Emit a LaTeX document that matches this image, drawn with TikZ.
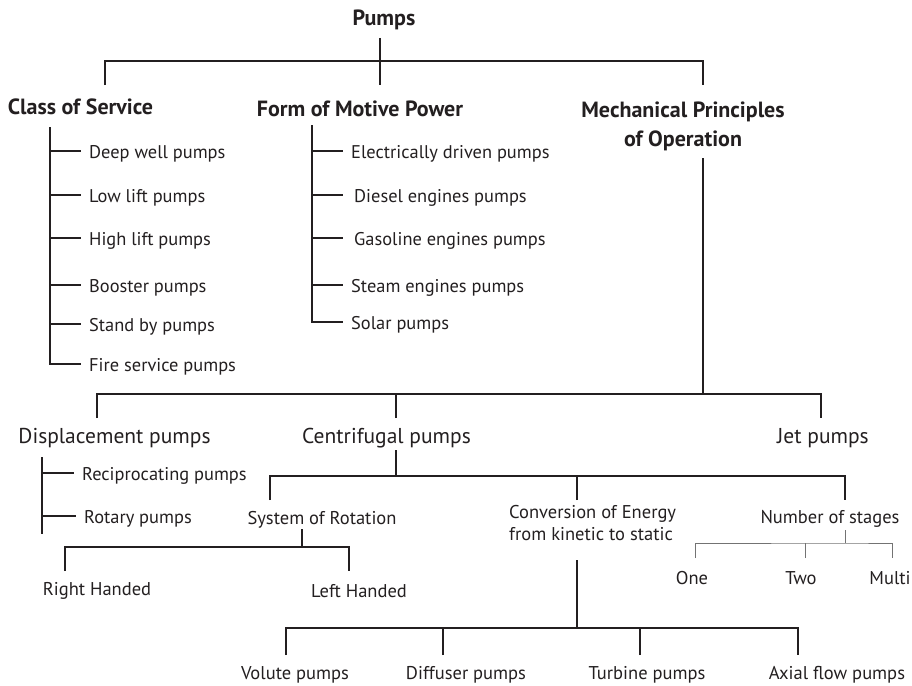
\documentclass[tikz,border=0pt]{standalone}
\usepackage{fontspec}
\setmainfont{PT Sans}
\definecolor{ink}{HTML}{231F20}
\tikzset{
  head/.style={font=\bfseries\fontsize{22}{29}\selectfont, text=ink, inner sep=0pt},
  kind/.style={font=\fontsize{21.5}{24}\selectfont, text=ink, inner sep=0pt},
  leaf/.style={font=\fontsize{18.5}{22}\selectfont, text=ink, inner sep=0pt},
  item/.style={font=\fontsize{18.4}{22}\selectfont, text=ink, inner sep=0pt, anchor=base west},
  link/.style={draw=ink, line width=1.5pt},
  thinlink/.style={draw=black!55, line width=1pt},
  tick/.style={xshift=-#1, yshift=7pt},
}
\begin{document}
\begin{tikzpicture}[x=1pt, y=-1pt]
    \useasboundingbox (0,0) rectangle (912,685);
        % top level
        \node[head] (pumps) at (384,20) {Pumps};
        \node[head] (cls) at (80.5,107) {Class of Service};
        \node[head] (form) at (360,109) {Form of Motive Power};
        \node[head, align=center] (mech) at (683,126) {Mechanical Principles\\of Operation};
        \coordinate (pumps-s) at (380,38);
        \coordinate (pumps-j) at (380,61);
        \coordinate (cls-n) at (105,85);
        \coordinate (form-n) at (380,85);
        \coordinate (mech-n) at (703,85);
        \draw[link] (pumps-s) -- (pumps-j);
        \draw[link] (cls-n) |- (pumps-j) -| (mech-n);
        \draw[link] (pumps-j) -- (form-n);
        % class of service
        \node[item] (deep) at (89,158) {Deep well pumps};
        \node[item] (low) at (89,202) {Low lift pumps};
        \node[item] (high) at (89,245) {High lift pumps};
        \node[item] (boost) at (89,292) {Booster pumps};
        \node[item] (stand) at (89,331) {Stand by pumps};
        \node[item] (fire) at (89,371) {Fire service pumps};
        \coordinate (cls-rail) at (50,127);
        \draw[link] (cls-rail) |- ([tick=8pt]fire.base west);
        \draw[link] ([yshift=7pt]cls-rail |- deep.base west) -- ([tick=8pt]deep.base west);
        \draw[link] ([yshift=7pt]cls-rail |- low.base west) -- ([tick=8pt]low.base west);
        \draw[link] ([yshift=7pt]cls-rail |- high.base west) -- ([tick=8pt]high.base west);
        \draw[link] ([yshift=7pt]cls-rail |- boost.base west) -- ([tick=8pt]boost.base west);
        \draw[link] ([yshift=7pt]cls-rail |- stand.base west) -- ([tick=8pt]stand.base west);
        % form of motive power
        \node[item] (elec) at (351,158) {Electrically driven pumps};
        \node[item] (diesel) at (354,202) {Diesel engines pumps};
        \node[item] (gas) at (354,245) {Gasoline engines pumps};
        \node[item] (steam) at (351,292) {Steam engines pumps};
        \node[item] (solar) at (351,329) {Solar pumps};
        \coordinate (form-rail) at (312,125);
        \draw[link] (form-rail) |- ([tick=8pt]solar.base west);
        \draw[link] ([yshift=7pt]form-rail |- elec.base west) -- ([tick=8pt]elec.base west);
        \draw[link] ([yshift=7pt]form-rail |- diesel.base west) -- ([tick=11pt]diesel.base west);
        \draw[link] ([yshift=7pt]form-rail |- gas.base west) -- ([tick=11pt]gas.base west);
        \draw[link] ([yshift=7pt]form-rail |- steam.base west) -- ([tick=8pt]steam.base west);
        % mechanical principles
        \node[kind] (disp) at (114.5,438) {Displacement pumps};
        \node[kind] (cent) at (386.5,438) {Centrifugal pumps};
        \node[kind] (jet) at (823,438) {Jet pumps};
        \coordinate (mech-s) at (703,158);
        \coordinate (mech-j) at (703,394);
        \coordinate (disp-n) at (97,418);
        \coordinate (cent-n) at (396,418);
        \coordinate (jet-n) at (821,418);
        \draw[link] (mech-s) -- (mech-j);
        \draw[link] (disp-n) |- (mech-j) -| (jet-n);
        \draw[link] (cent-n) -- (cent-n |- mech-j);
        % displacement
        \node[item] (recip) at (82,480) {Reciprocating pumps};
        \node[item] (rotary) at (84,523) {Rotary pumps};
        \coordinate (disp-rail) at (42,457);
        \coordinate (disp-end) at (42,534);
        \draw[link] (disp-rail) -- (disp-end);
        \draw[link] ([yshift=7pt]disp-rail |- recip.base west) -- ([tick=8pt]recip.base west);
        \draw[link] ([yshift=7pt]disp-rail |- rotary.base west) -- ([tick=8pt]rotary.base west);
        % centrifugal
        \node[leaf] (rot) at (322,520) {System of Rotation};
        \node[leaf, align=left, anchor=west] (conv) at (509,523) {Conversion of Energy\\from kinetic to static};
        \node[leaf] (stages) at (830,519) {Number of stages};
        \coordinate (cent-s) at (396,450);
        \coordinate (cent-j) at (396,476);
        \coordinate (rot-n) at (270,500);
        \coordinate (conv-n) at (577,500);
        \coordinate (stages-n) at (845,500);
        \draw[link] (cent-s) -- (cent-j);
        \draw[link] (rot-n) |- (cent-j) -| (stages-n);
        \draw[link] (conv-n) -- (conv-n |- cent-j);
        % rotation
        \node[leaf] (right) at (97,591) {Right Handed};
        \node[leaf] (left) at (359,591) {Left Handed};
        \coordinate (rot-s) at (302,529);
        \coordinate (rot-j) at (302,547);
        \coordinate (right-n) at (65,571);
        \coordinate (left-n) at (349,571);
        \draw[link] (rot-s) -- (rot-j);
        \draw[link] (right-n) |- (rot-j) -| (left-n);
        % stages
        \node[leaf] (one) at (692,578) {One};
        \node[leaf] (two) at (801,578) {Two};
        \node[leaf] (multi) at (890,578) {Multi};
        \coordinate (stages-s) at (845,530);
        \coordinate (stages-j) at (845,543);
        \coordinate (one-n) at (695,558);
        \coordinate (two-n) at (805,558);
        \coordinate (multi-n) at (892,558);
        \draw[thinlink] (stages-s) -- (stages-j);
        \draw[thinlink] (one-n) |- (stages-j) -| (multi-n);
        \draw[thinlink] (two-n) -- (two-n |- stages-j);
        % energy conversion
        \node[leaf] (volute) at (295,675) {Volute pumps};
        \node[leaf] (diffuser) at (466,675) {Diffuser pumps};
        \node[leaf] (turbine) at (647,675) {Turbine pumps};
        \node[leaf] (axial) at (837,675) {Axial flow pumps};
        \coordinate (conv-s) at (577,560);
        \coordinate (conv-j) at (577,628);
        \coordinate (volute-n) at (286,655);
        \coordinate (diffuser-n) at (443,655);
        \coordinate (turbine-n) at (640,655);
        \coordinate (axial-n) at (798,655);
        \draw[link] (conv-s) -- (conv-j);
        \draw[link] (volute-n) |- (conv-j) -| (axial-n);
        \draw[link] (diffuser-n) -- (diffuser-n |- conv-j);
        \draw[link] (turbine-n) -- (turbine-n |- conv-j);
    \end{tikzpicture}
\end{document}
